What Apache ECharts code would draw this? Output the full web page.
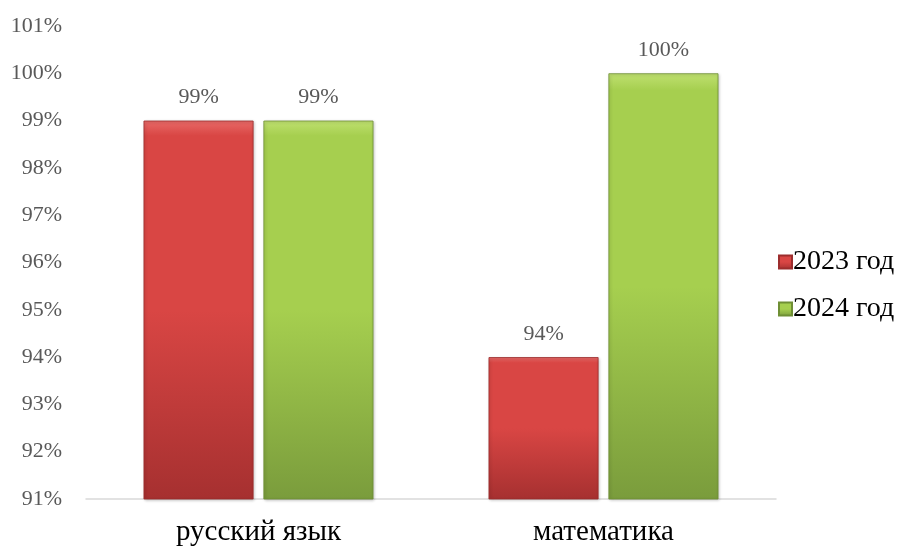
<!DOCTYPE html>
<html>
<head>
<meta charset="utf-8">
<script src="https://cdn.jsdelivr.net/npm/echarts@6/dist/echarts.min.js"></script>
<style>html,body{margin:0;padding:0;background:#fff}#c{width:898px;height:549px}</style>
</head>
<body>
<div id="c"></div>
<script>
const categories = ['русский язык', 'математика'];
const series2023 = [99, 94];
const series2024 = [99, 100];
const seriesNames = ['2023 год', '2024 год'];

const chart = echarts.init(document.getElementById('c'), null, {renderer: 'canvas'});
function grad(top, mid, bottom) {
  return new echarts.graphic.LinearGradient(0, 0, 0, 1, [
    {offset: 0, color: top}, {offset: 0.04, color: mid}, {offset: 0.5, color: mid}, {offset: 1, color: bottom}
  ]);
}
const FONT = '"Liberation Serif", "Times New Roman", serif';
chart.setOption({
  animation: false,
  textStyle: {fontFamily: FONT},
  grid: {left: 86, right: 122, top: 26, bottom: 50},
  legend: {
    orient: 'vertical', left: 773, top: 243, itemWidth: 13, itemHeight: 13, itemGap: 19,
    icon: 'rect',
    textStyle: {fontFamily: FONT, fontSize: 28, color: '#000', padding: [0, 0, 0, -4]},
    data: seriesNames
  },
  xAxis: {
    type: 'category', data: categories,
    axisLine: {lineStyle: {color: '#d9d9d9', width: 1.5}},
    axisTick: {show: false},
    axisLabel: {fontFamily: FONT, fontSize: 29, color: '#000', margin: 19}
  },
  yAxis: {
    type: 'value', min: 91, max: 101, interval: 1,
    axisLine: {show: false}, axisTick: {show: false}, splitLine: {show: false},
    axisLabel: {fontFamily: FONT, fontSize: 22, color: '#595959', margin: 24, formatter: v => v + '%'}
  },
  series: [
    {
      name: seriesNames[0], type: 'bar', data: series2023, barWidth: 110, barGap: '9%',
      itemStyle: {color: grad('#e86a68', '#d94644', '#a63030'), borderColor: '#9c2d2d', borderWidth: 0.8,
        shadowColor: 'rgba(0,0,0,0.25)', shadowBlur: 3, shadowOffsetX: 1, shadowOffsetY: 1},
      label: {show: true, position: 'top', distance: 12, fontFamily: FONT, fontSize: 22, color: '#595959', formatter: p => p.value + '%'}
    },
    {
      name: seriesNames[1], type: 'bar', data: series2024, barWidth: 110,
      itemStyle: {color: grad('#bfe070', '#a6cf4f', '#7a9c3c'), borderColor: '#6f8f35', borderWidth: 0.8,
        shadowColor: 'rgba(0,0,0,0.25)', shadowBlur: 3, shadowOffsetX: 1, shadowOffsetY: 1},
      label: {show: true, position: 'top', distance: 12, fontFamily: FONT, fontSize: 22, color: '#595959', formatter: p => p.value + '%'}
    }
  ]
});
</script>
</body>
</html>
